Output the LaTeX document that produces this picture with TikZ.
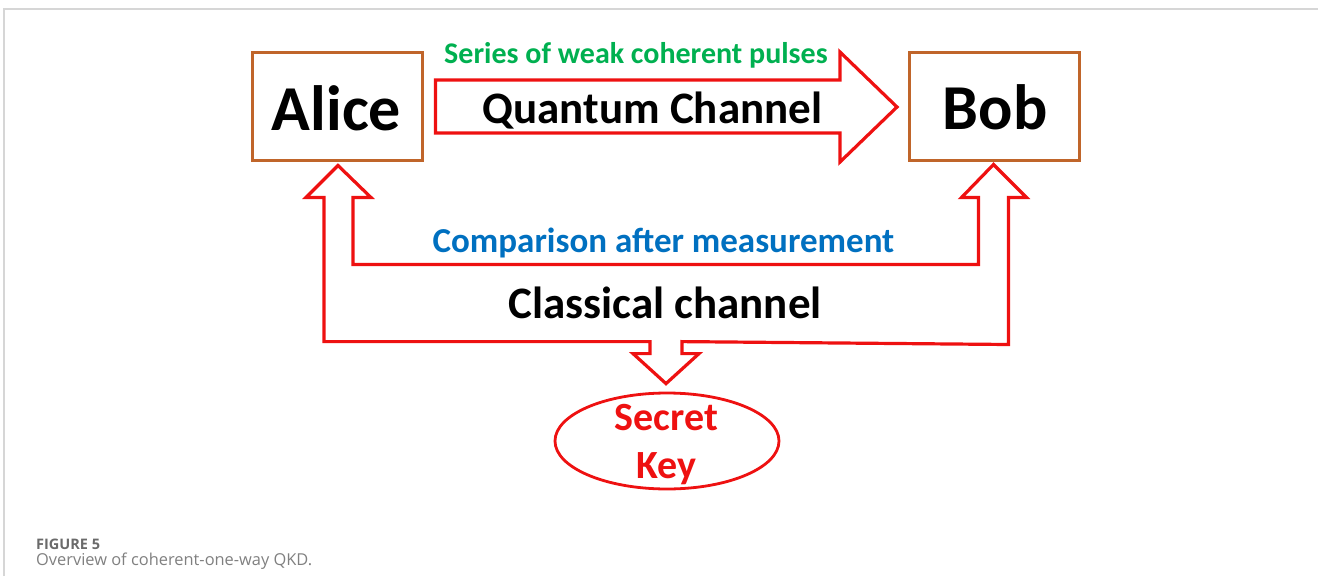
\documentclass[tikz,border=0pt]{standalone}
\usepackage{fontspec}
\setmainfont{Carlito}
\newfontfamily\capfont{Open Sans}
\usetikzlibrary{shapes.geometric,calc}
\definecolor{boxbrown}{HTML}{C0652A}
\definecolor{chred}{HTML}{EE1111}
\definecolor{pulsegreen}{HTML}{00B050}
\definecolor{cmpblue}{HTML}{0070C0}
\definecolor{capgray}{HTML}{6A6A6A}
\definecolor{framegray}{HTML}{D6D6D6}
\newcommand\fs[1]{\fontsize{#1}{#1}\selectfont\bfseries}
\begin{document}
\begin{tikzpicture}[x=1pt,y=-1pt,every node/.style={inner sep=0pt,anchor=base},
	party/.style={draw=boxbrown,line width=3pt,minimum width=170pt,minimum height=108pt,anchor=center},
	chan/.style={draw=chred,line width=3.2pt,line join=miter}]
		\useasboundingbox(0,0)rectangle(1318,576);
		\draw[framegray,line width=1.5pt](4,576)--(4,9)--(1318,9);
		\node[party](alice)at(337,106){};
		\node[party](bob)at(994.5,106){};
		\node[draw=chred,line width=2.8pt,ellipse,minimum width=224pt,minimum height=96pt,anchor=center](key)at(667,441){};
		%arrow ends
		\coordinate(QS)at($(alice.east)+(12,0)$);
		\coordinate(QT)at($(bob.west)+(-11,1)$);
		\coordinate(LT)at($(alice.south)+(1,4)$);
		\coordinate(RT)at($(bob.south)+(-1,3)$);
		\coordinate(DT)at($(key.north)+(-1,-8)$);
		%quantum channel
		\draw[chan]($(QS)+(0,-26)$)-|($(QT)+(-57,-55)$)--(QT)--($(QT)+(-57,55)$)|-($(QS)+(0,27)$)--cycle;
		%classical channel
		\draw[chan](LT)--++(33,32)--++(-18,0)--++(0,67)-|($(RT)+(-15,33)$)--++(-17,0)--(RT)--++(33,33)--++(-18,0)--++(0,147)
			--($(DT)+(16,-42)$)--++(0,12)--++(17,0)--(DT)--++(-33,-30)--++(17,0)--++(0,-12)-|($(LT)+(-14,32)$)--++(-18,0)--cycle;
		\node[font=\fs{64}](alicet)at(336.5,130){Alice};
		\node[font=\fs{64}](bobt)at(995,129){Bob};
		\node[font=\fs{30},text=pulsegreen](pulses)at(636,63){Series of weak coherent pulses};
		\node[font=\fs{45}](qch)at(652.5,123){Quantum Channel};
		\node[font=\fs{35},text=cmpblue](cmp)at(663.5,252){Comparison after measurement};
		\node[font=\fs{45}](cch)at(665,318){Classical channel};
		\node[font=\fs{40},text=chred](sec)at(666.5,430){Secret};
		\node[font=\fs{40},text=chred](keyt)at(666.5,478){Key};
		\node[anchor=base west,font=\capfont\bfseries\fontsize{14.5}{15}\selectfont,text=capgray](fig)at(36,549){FIGURE 5};
		\node[anchor=base west,font=\capfont\fontsize{16.4}{17}\selectfont,text=capgray!85](cap)at(36,565){Overview of coherent-one-way QKD.};
	\end{tikzpicture}
\end{document}
